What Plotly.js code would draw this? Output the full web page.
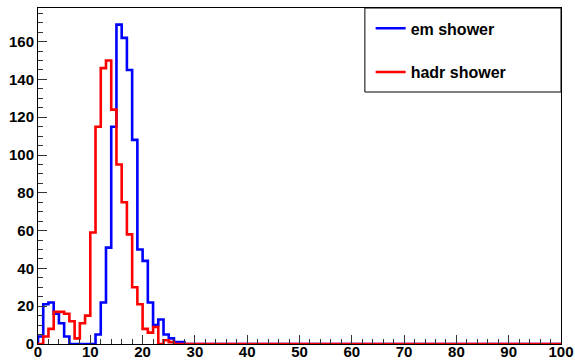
<!DOCTYPE html>
<html>
<head>
<meta charset="utf-8">
<script src="https://cdn.plot.ly/plotly-3.0.1.min.js"></script>
<style>html,body{margin:0;padding:0;background:#fff;}#chart{width:575px;height:360px;}</style>
</head>
<body>
<div id="chart"></div>
<script>
// Histogram: 100 bins of width 1 from 0 to 100
const binLow = 0;
const binWidth = 1;
const emName = "em shower";
const hadrName = "hadr shower";
// counts per bin (bins 0..27; all further bins are 0)
const emCounts = [4, 21, 22, 16, 11, 4, 0, 0, 0, 0, 0, 5, 22, 51, 115, 169, 162, 145, 108, 50, 44, 22, 10, 13, 5, 3, 1, 1];
const hadrCounts = [0, 4, 8, 17, 17, 16, 12, 3, 11, 15, 59, 115, 146, 150, 124, 95, 75, 58, 30, 21, 8, 6, 9, 0, 2, 1, 0, 0];
const nBins = 100;
const xTicks = [0, 10, 20, 30, 40, 50, 60, 70, 80, 90, 100];
const yTicks = [0, 20, 40, 60, 80, 100, 120, 140, 160];

function stepXY(counts) {
  const x = [binLow], y = [0];
  for (let i = 0; i < nBins; i++) {
    x.push(binLow + i * binWidth);
    y.push(i < counts.length ? counts[i] : 0);
  }
  x.push(binLow + nBins * binWidth);
  y.push(nBins - 1 < counts.length ? counts[nBins - 1] : 0);
  return {x, y};
}

const em = stepXY(emCounts);
const hadr = stepXY(hadrCounts);

const traces = [
  {x: em.x, y: em.y, type: 'scatter', mode: 'lines', line: {shape: 'hv', color: '#0000ff', width: 2.6}, name: emName, legendgroup: 'a'},
  {x: hadr.x, y: hadr.y, type: 'scatter', mode: 'lines', line: {shape: 'hv', color: '#ff0000', width: 2.6}, name: hadrName, legendgroup: 'b'}
];

const tickFont = {family: 'Liberation Sans, Arial, sans-serif', size: 15, color: '#000', weight: 'bold'};

const layout = {
  width: 575, height: 360,
  margin: {l: 38, r: 14, t: 8, b: 16},
  paper_bgcolor: '#fff', plot_bgcolor: '#fff',
  showlegend: true,
  legend: {
    x: 0.636, y: 0.99, xanchor: 'left', yanchor: 'top',
    bgcolor: 'rgba(0,0,0,0)', borderwidth: 0,
    font: {family: 'Liberation Sans, Arial, sans-serif', size: 16, color: '#000', weight: 'bold'},
    tracegroupgap: 20, itemwidth: 30
  },
  xaxis: {
    range: [0, 100], tickvals: xTicks, ticktext: xTicks.map(String),
    ticks: 'inside', ticklen: 9, tickcolor: '#333', tickwidth: 1,
    minor: {dtick: 2, ticks: 'inside', ticklen: 5, tickcolor: '#333'},
    showline: true, linecolor: '#000', linewidth: 1, mirror: true,
    showgrid: false, zeroline: false, tickfont: tickFont, fixedrange: true,
    ticklabelstandoff: -6
  },
  yaxis: {
    range: [0, 177.8], tickvals: yTicks, ticktext: yTicks.map(String),
    ticks: 'inside', ticklen: 9, tickcolor: '#333', tickwidth: 1,
    minor: {dtick: 5, ticks: 'inside', ticklen: 5, tickcolor: '#333'},
    showline: true, linecolor: '#000', linewidth: 1, mirror: true,
    showgrid: false, zeroline: false, tickfont: tickFont, fixedrange: true
  },
  shapes: [
    {type: 'rect', xref: 'paper', yref: 'paper', x0: 0.625, x1: 1.0, y0: 0.75, y1: 1.0, line: {color: '#000', width: 1}, fillcolor: 'rgba(255,255,255,0)'}
  ]
};

Plotly.newPlot('chart', traces, layout, {displayModeBar: false, staticPlot: true});
</script>
</body>
</html>
